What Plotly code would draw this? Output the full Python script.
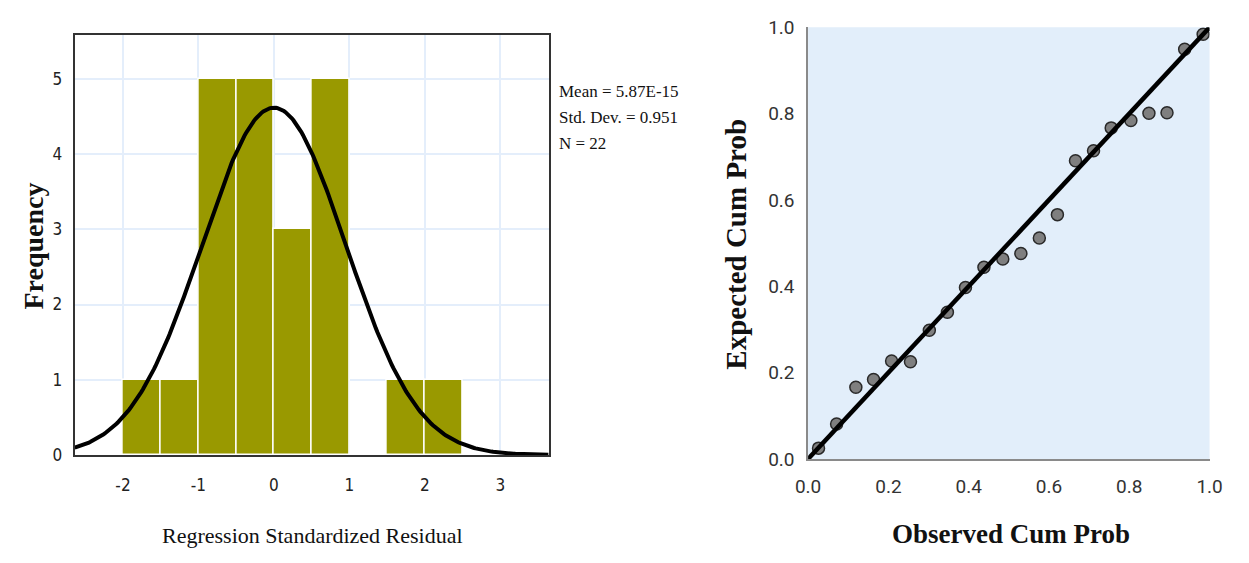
import numpy as np
import plotly.graph_objects as go

W, H = 1249, 563

# ---------------- Data: histogram of standardized residuals ----------------
bin_left = [-2.0, -1.5, -1.0, -0.5, 0.0, 0.5, 1.0, 1.5, 2.0]
bin_counts = [1, 1, 5, 5, 3, 5, 0, 1, 1]
BIN_WIDTH = 0.5
MEAN = 5.87e-15
SD = 0.951
N = 22
stats_lines = ["Mean = 5.87E-15", "Std. Dev. = 0.951", "N = 22"]
hist_xticks = [-2, -1, 0, 1, 2, 3]
hist_xticklabels = ["-2", "-1", "0", "1", "2", "3"]
hist_yticks = [0, 1, 2, 3, 4, 5]

# ---------------- Data: normal P-P plot ----------------
observed_cum = [0.026, 0.071, 0.119, 0.163, 0.208, 0.255, 0.302, 0.347, 0.392, 0.438, 0.485,
                0.530, 0.576, 0.621, 0.666, 0.711, 0.755, 0.804, 0.849, 0.894, 0.938, 0.984]
expected_cum = [0.025, 0.081, 0.166, 0.184, 0.227, 0.225, 0.298, 0.340, 0.397, 0.444, 0.463,
                0.476, 0.512, 0.566, 0.691, 0.714, 0.767, 0.784, 0.801, 0.802, 0.949, 0.984]
ref_line_x = [0.0, 1.0]
ref_line_y = [0.0, 1.0]
pp_ticks = [0.0, 0.2, 0.4, 0.6, 0.8, 1.0]

# ---------------- Layout geometry (pixels) ----------------
def px(x):
    return x / W

def py(y):
    return 1 - y / H

L_X0, L_X1, L_Y0, L_Y1 = 63, 547, 25, 463
R_X0, R_X1, R_Y0, R_Y1 = 812, 1222, 17, 467

XR = [-2.64, 3.64]
YR = [0, 5.58]

fig = go.Figure()

# histogram bars
bar_centers = [b + BIN_WIDTH / 2 for b in bin_left]
fig.add_trace(go.Bar(
    x=bar_centers, y=bin_counts, width=BIN_WIDTH,
    marker=dict(color="#999900", line=dict(color="white", width=1.5)),
    xaxis="x", yaxis="y", hoverinfo="skip"))

# fitted normal curve (from the stated Mean, Std. Dev. and N)
cx = np.linspace(XR[0], XR[1], 300)
cy = N * BIN_WIDTH / (SD * np.sqrt(2 * np.pi)) * np.exp(-0.5 * ((cx - MEAN) / SD) ** 2)
fig.add_trace(go.Scatter(
    x=cx, y=cy, mode="lines", line=dict(color="black", width=4),
    xaxis="x", yaxis="y", hoverinfo="skip"))

# P-P points
fig.add_trace(go.Scatter(
    x=observed_cum, y=expected_cum, mode="markers",
    marker=dict(size=12, color="#7f7f7f", line=dict(color="#2a2a2a", width=1.5)),
    xaxis="x2", yaxis="y2", hoverinfo="skip"))

# reference line
fig.add_trace(go.Scatter(
    x=ref_line_x, y=ref_line_y, mode="lines", line=dict(color="black", width=4.5),
    xaxis="x2", yaxis="y2", cliponaxis=False, hoverinfo="skip"))

narrow_sans = "Liberation Sans Narrow, DejaVu Sans Condensed, Liberation Sans, Arial"
grid_col = "#e4eefb"

fig.update_layout(
    width=W, height=H,
    margin=dict(l=0, r=0, t=0, b=0),
    paper_bgcolor="white", plot_bgcolor="white",
    showlegend=False, bargap=0,
    xaxis=dict(domain=[px(L_X0), px(L_X1)], range=XR, tickvals=hist_xticks,
               ticktext=hist_xticklabels,
               showgrid=True, gridcolor=grid_col, gridwidth=1.5, zeroline=False,
               showline=True, mirror=True, linecolor="#333", linewidth=2,
               ticks="", ticklabelstandoff=14,
               tickfont=dict(family=narrow_sans, size=17, color="#222")),
    yaxis=dict(domain=[py(L_Y1), py(L_Y0)], range=YR, tickvals=hist_yticks,
               showgrid=True, gridcolor=grid_col, gridwidth=1.5, zeroline=False,
               showline=True, mirror=True, linecolor="#333", linewidth=2,
               ticks="", ticklabelstandoff=7,
               tickfont=dict(family=narrow_sans, size=17, color="#222")),
    xaxis2=dict(domain=[px(R_X0), px(R_X1)], range=[0, 1], tickvals=pp_ticks,
                tickformat=".1f", showgrid=False, zeroline=False,
                showline=True, linecolor="#8a8a8a", linewidth=1.5,
                ticks="", ticklabelstandoff=10, anchor="y2",
                tickfont=dict(family="Roboto", size=19, color="#333")),
    yaxis2=dict(domain=[py(R_Y1), py(R_Y0)], range=[0, 1], tickvals=pp_ticks,
                tickformat=".1f", showgrid=False, zeroline=False,
                showline=True, linecolor="#8a8a8a", linewidth=1.5,
                ticks="", ticklabelstandoff=8, anchor="x2",
                tickfont=dict(family="Roboto", size=19, color="#333")),
)

# light blue background of P-P plot
fig.add_shape(type="rect", xref="x2 domain", yref="y2 domain",
              x0=0, x1=1, y0=0, y1=1, fillcolor="#e2eefa",
              line=dict(width=0), layer="below")

serif = "Liberation Serif, Times New Roman, serif"
ann = []
# statistics box
for txt, yc in zip(stats_lines, [84, 111, 138]):
    ann.append(dict(text=txt, x=px(556), y=py(yc), xref="paper", yref="paper",
                    xanchor="left", yanchor="middle", showarrow=False,
                    font=dict(family=serif, size=17, color="#111")))
# axis titles
ann.append(dict(text="Regression Standardized Residual", x=px(306), y=py(547),
                xref="paper", yref="paper", xanchor="center", yanchor="middle",
                showarrow=False, font=dict(family=serif, size=22, color="#111")))
ann.append(dict(text="<b>Frequency</b>", x=px(21), y=py(245), textangle=-90,
                xref="paper", yref="paper", xanchor="center", yanchor="middle",
                showarrow=False, font=dict(family=serif, size=28, color="#111")))
ann.append(dict(text="<b>Observed Cum Prob</b>", x=px(1019), y=py(545),
                xref="paper", yref="paper", xanchor="center", yanchor="middle",
                showarrow=False, font=dict(family=serif, size=27, color="#111")))
ann.append(dict(text="<b>Expected Cum Prob</b>", x=px(738), y=py(243), textangle=-90,
                xref="paper", yref="paper", xanchor="center", yanchor="middle",
                showarrow=False, font=dict(family=serif, size=29, color="#111")))
fig.update_layout(annotations=ann)

fig.write_html("out.html")
